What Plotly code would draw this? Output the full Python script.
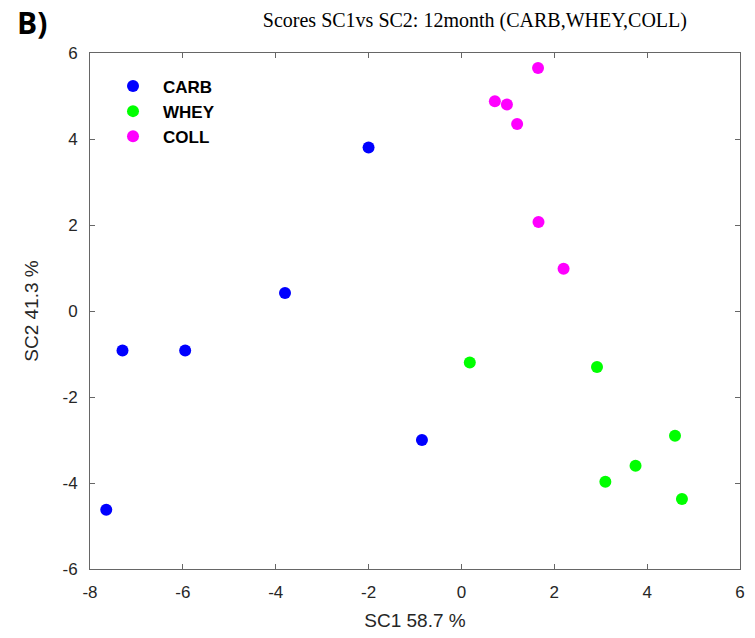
import plotly.graph_objects as go

groups = ["CARB", "WHEY", "COLL"]
colors = ["#0000FF", "#00FF00", "#FF00FF"]

carb_sc1 = [-2.0, -3.8, -7.3, -5.95, -0.85, -7.65]
carb_sc2 = [3.8, 0.42, -0.92, -0.92, -3.0, -4.62]

whey_sc1 = [0.18, 2.92, 4.6, 3.75, 3.1, 4.75]
whey_sc2 = [-1.2, -1.3, -2.9, -3.6, -3.97, -4.37]

coll_sc1 = [1.65, 0.72, 0.98, 1.2, 1.66, 2.2]
coll_sc2 = [5.65, 4.88, 4.8, 4.35, 2.07, 0.98]

xticks = [-8, -6, -4, -2, 0, 2, 4, 6]
xticklabels = ["-8", "-6", "-4", "-2", "0", "2", "4", "6"]
yticks = [-6, -4, -2, 0, 2, 4, 6]
yticklabels = ["-6", "-4", "-2", "0", "2", "4", "6"]

data = [(carb_sc1, carb_sc2), (whey_sc1, whey_sc2), (coll_sc1, coll_sc2)]

fig = go.Figure()
for name, col, (xs, ys) in zip(groups, colors, data):
    fig.add_trace(go.Scatter(
        x=xs, y=ys, mode="markers", name=name, legendgroup=name,
        marker=dict(color=col, size=12, line=dict(width=0)),
    ))

axis_common = dict(
    showline=True, linecolor="#666666", linewidth=1, mirror="ticks",
    ticks="inside", ticklen=5, tickcolor="#666666",
    showgrid=False, zeroline=False,
    tickfont=dict(family="Liberation Sans, Arial", size=17, color="#262626"),
)

fig.update_layout(
    width=755, height=638,
    margin=dict(l=90, r=10, t=53, b=67),
    paper_bgcolor="white", plot_bgcolor="white",
    title=dict(
        text="Scores SC1vs SC2: 12month (CARB,WHEY,COLL)",
        font=dict(family="Liberation Serif, Times New Roman", size=20, color="black"),
        x=0.629, xanchor="center", xref="container",
        y=0.968, yanchor="middle", yref="container",
    ),
    xaxis=dict(
        range=[-8, 6], tickvals=xticks, ticktext=xticklabels,
        ticklabelstandoff=8,
        title=dict(text="SC1 58.7 %", font=dict(family="Liberation Sans, Arial", size=19, color="#262626"), standoff=12),
        **axis_common,
    ),
    yaxis=dict(
        range=[-6, 6], tickvals=yticks, ticktext=yticklabels,
        ticklabelstandoff=8,
        title=dict(text="SC2 41.3 %", font=dict(family="Liberation Sans, Arial", size=19, color="#262626"), standoff=18),
        **axis_common,
    ),
    legend=dict(
        x=0.02, y=0.97, xanchor="left", yanchor="top",
        bgcolor="rgba(0,0,0,0)", borderwidth=0,
        font=dict(family="Liberation Sans, Arial", size=17, color="black", weight="bold"),
        traceorder="grouped", tracegroupgap=0, itemwidth=50,
    ),
    showlegend=True,
)

fig.add_annotation(
    text="<b>B)</b>", xref="paper", yref="paper",
    x=-0.115, y=1.0597, xanchor="left", yanchor="middle", showarrow=False,
    font=dict(family="Open Sans, DejaVu Sans", size=30, color="black"),
)

fig.write_html("out.html", config={"displayModeBar": False},
               post_script="document.body.style.margin='0px';")
